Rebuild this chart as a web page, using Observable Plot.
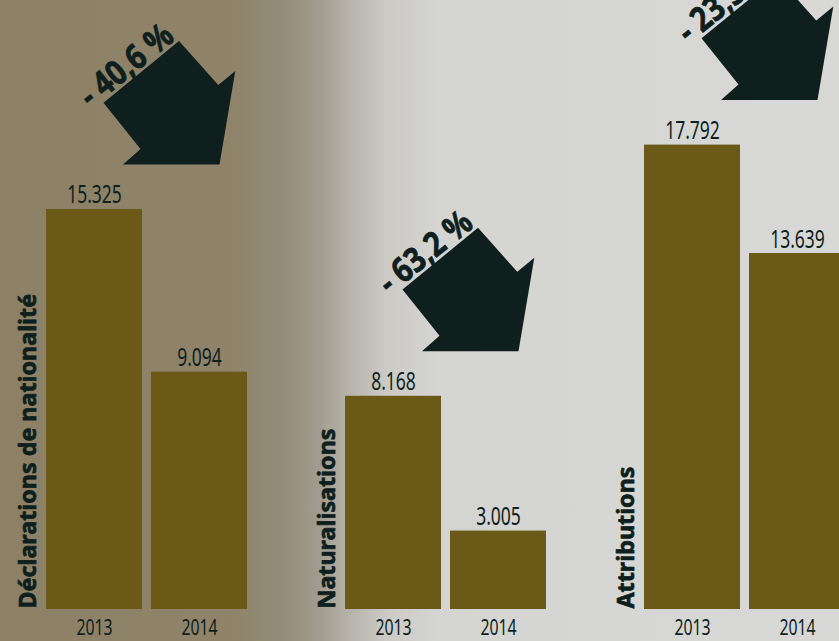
<!DOCTYPE html>
<html><head><meta charset="utf-8">
<script src="https://cdn.jsdelivr.net/npm/d3@7"></script>
<script src="https://cdn.jsdelivr.net/npm/@observablehq/plot@0.6"></script>
<style>
html,body{margin:0;padding:0;overflow:hidden;background:#d6d6d3;}
</style></head><body><div id="chart"></div>
<script>
const categories = ["Déclarations de nationalité", "Naturalisations", "Attributions"];
const years = ["2013", "2014"];
const values2013 = [15325, 8168, 17792];
const values2014 = [9094, 3005, 13639];
const changeLabels = ["- 40,6 %", "- 63,2 %", "- 23,3 %"];

const fmt = d3.formatLocale({decimal: ",", thousands: ".", grouping: [3], currency: ["", ""]}).format(",");
const rows = categories.flatMap((c, i) => [
  {category: c, year: years[0], value: values2013[i], change: changeLabels[i]},
  {category: c, year: years[1], value: values2014[i], change: changeLabels[i]}
]);

const ink = "#0f1f1d";
const barColor = "#6b5a17";
const font = "'Noto Sans', 'Open Sans', 'DejaVu Sans Condensed', sans-serif";

// arrow glyph outline, relative to its tip
const arrowShape = [[-40.5,-123.5],[-1.2,-79.5],[15.8,-93.5],[0,0],[-96.5,0],[-79,-15.6],[-116,-61.8]];
const arrowSymbol = {draw(ctx, size) {
  const s = Math.sqrt(size / Math.PI);
  arrowShape.forEach(([px, py], i) => i ? ctx.lineTo(px * s, py * s) : ctx.moveTo(px * s, py * s));
  ctx.closePath();
}};

const first = d => d.year === years[0];

const chart = Plot.plot({
  width: 839, height: 641,
  marginTop: 0, marginBottom: 32, marginLeft: 45, marginRight: -7,
  style: {
    background: "linear-gradient(90deg, #8c8166 0%, #8f8469 28%, #958d7a 34%, #a19c8f 38%, #b8b5ac 42%, #cbcac5 46%, #d4d4d1 52%, #d8d9d7 100%)",
    fontFamily: font, overflow: "hidden"
  },
  fx: {domain: categories, paddingInner: 0.327, paddingOuter: 0, axis: null, label: null},
  x: {domain: years, paddingInner: 0.09, paddingOuter: 0, axis: null},
  y: {domain: [0, 23332], axis: null},
  marks: [
    Plot.barY(rows, {fx: "category", x: "year", y: "value", fill: barColor}),
    Plot.text(rows, {fx: "category", x: "year", y: "value", text: d => fmt(d.value),
      lineAnchor: "bottom", dy: -6, fontSize: 25, fill: ink}),
    Plot.text(rows, {fx: "category", x: "year", frameAnchor: "bottom", text: "year",
      lineAnchor: "bottom", dy: 25, fontSize: 22, fill: ink}),
    Plot.text(rows, {filter: first, fx: "category", x: "year", frameAnchor: "bottom", text: "category",
      rotate: -90, textAnchor: "start", lineAnchor: "middle", dx: -66, dy: -1, fontSize: 24, fontWeight: "bold",
      fill: ink, stroke: ink, strokeWidth: 0.7}),
    Plot.dot(rows, {filter: first, fx: "category", x: "year", y: "value", r: 1, symbol: arrowSymbol,
      dx: 125, dy: -45, fill: ink, stroke: "none"}),
    Plot.text(rows, {filter: first, fx: "category", x: "year", y: "value", text: "change",
      rotate: -39, dx: 32, dy: -144, fontSize: 34, fontWeight: "bold", fill: ink, stroke: ink, strokeWidth: 0.8})
  ]
});
document.getElementById("chart").append(chart);

// condensed look: squeeze glyphs horizontally, per text mark
const squeeze = [0.7, 0.72, 0.97, 0.86];
d3.select(chart).selectAll('g[aria-label="text"]').each(function(_, i) {
  const k = squeeze[i] ?? 1;
  d3.select(this).selectAll("text").each(function() {
    const len = this.getComputedTextLength();
    this.setAttribute("textLength", len * k);
    this.setAttribute("lengthAdjust", "spacingAndGlyphs");
  });
});
</script></body></html>
